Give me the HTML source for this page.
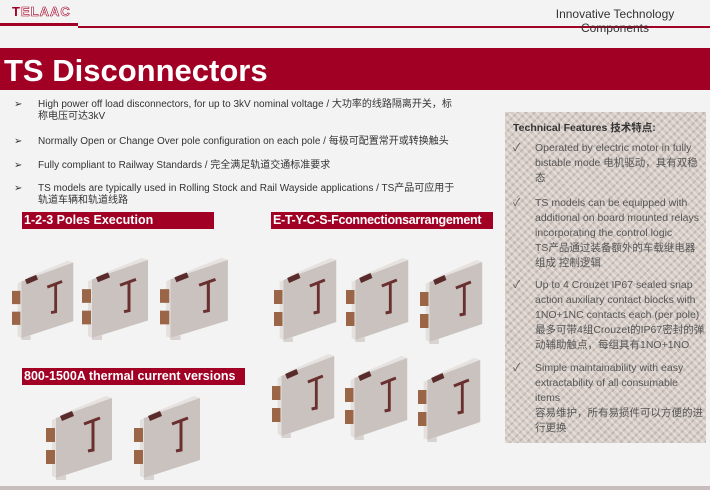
<!DOCTYPE html>
<html><head><meta charset="utf-8"><style>
*{margin:0;padding:0;box-sizing:border-box}
body{width:710px;height:490px;background:#f3f3f3;position:relative;overflow:hidden;font-family:"Liberation Sans","Noto Sans CJK SC",sans-serif}
.abs{position:absolute}
.bar{background:#a10024;color:#fff;font-weight:bold;font-size:12.5px;line-height:17px;padding-left:2px;white-space:nowrap}
.bl{position:absolute;left:16px;font-size:10px;color:#333;line-height:12px}
.bl span{position:absolute;left:-2px}
.bl div{margin-left:22px}
.panel{left:505px;top:112px;width:201px;height:331px;background:#d6cdc7;
background-image:repeating-linear-gradient(45deg,rgba(255,255,255,.35) 0 2px,transparent 2px 5px),repeating-linear-gradient(-45deg,rgba(160,140,135,.35) 0 2px,transparent 2px 6px);}
.ft{position:absolute;left:8px;font-size:10.5px;color:#555;line-height:15px}
.ft b{position:absolute;left:0;font-weight:normal}
.ft div{margin-left:22px;width:170px}
</style></head><body>
<svg width="0" height="0" style="position:absolute"><defs>
<symbol id="d" viewBox="0 0 70 90" preserveAspectRatio="none">
<polygon points="16,24 60,6 66,8 22,26" fill="#e6e2e0"/>
<polygon points="10,28 66,8 66,70 10,88" fill="#c9c2be"/>
<polygon points="6,30 10,28 10,88 6,86" fill="#e4e0de"/>
<rect x="0" y="38" width="9" height="14" fill="#9a6647"/>
<rect x="0" y="60" width="9" height="14" fill="#9a6647"/>
<polygon points="14,26 26,21 28,26 16,31" fill="#5a2b2b"/>
<path d="M38 34 L54 28 M47 31 L47 60 L42 61" stroke="#6a3030" stroke-width="3" fill="none"/>
<polygon points="10,88 20,85 20,90 10,90" fill="#d8d3d0"/>
</symbol></defs></svg>

<div class="abs" style="left:12px;top:4px;font-weight:bold;color:#a10024;font-size:13px;letter-spacing:1px">T<span style="color:#fff;-webkit-text-stroke:0.6px #a10024">ELAAC</span></div>
<div class="abs" style="left:0;top:23px;width:78px;height:3px;background:#a10024"></div>
<div class="abs" style="left:78px;top:26px;width:632px;height:2px;background:#a10024"></div>
<div class="abs" style="left:520px;top:7px;width:190px;text-align:center;font-size:12px;line-height:14px;color:#333">Innovative Technology<br>Components</div>

<div class="abs" style="left:0;top:48px;width:710px;height:42px;background:#a10024"></div>
<div class="abs" style="left:4px;top:52px;color:#fff;font-weight:bold;font-size:31px;line-height:37px">TS Disconnectors</div>

<div class="bl" style="top:99px"><span>➢</span><div>High power off load disconnectors, for up to 3kV nominal voltage / 大功率的线路隔离开关，标<br>称电压可达3kV</div></div>
<div class="bl" style="top:136px"><span>➢</span><div>Normally Open or Change Over pole configuration on each pole / 每极可配置常开或转换触头</div></div>
<div class="bl" style="top:160px"><span>➢</span><div>Fully compliant to Railway Standards / 完全满足轨道交通标准要求</div></div>
<div class="bl" style="top:183px"><span>➢</span><div>TS models are typically used in Rolling Stock and Rail Wayside applications / TS产品可应用于<br>轨道车辆和轨道线路</div></div>

<div class="abs bar" style="left:22px;top:212px;width:192px">1-2-3 Poles Execution</div>
<div class="abs bar" style="left:271px;top:212px;width:222px;letter-spacing:-0.3px">E-T-Y-C-S-Fconnectionsarrangement</div>
<div class="abs bar" style="left:22px;top:368px;width:223px">800-1500A thermal current versions</div>

<svg class="abs" style="left:12px;top:255px" width="65" height="85"><use href="#d"/></svg>
<svg class="abs" style="left:82px;top:252px" width="70" height="88"><use href="#d"/></svg>
<svg class="abs" style="left:160px;top:252px" width="72" height="88"><use href="#d"/></svg>

<svg class="abs" style="left:274px;top:252px" width="66" height="90"><use href="#d"/></svg>
<svg class="abs" style="left:346px;top:252px" width="66" height="90"><use href="#d"/></svg>
<svg class="abs" style="left:420px;top:254px" width="66" height="90"><use href="#d"/></svg>
<svg class="abs" style="left:272px;top:348px" width="66" height="90"><use href="#d"/></svg>
<svg class="abs" style="left:345px;top:350px" width="66" height="90"><use href="#d"/></svg>
<svg class="abs" style="left:418px;top:352px" width="66" height="90"><use href="#d"/></svg>

<svg class="abs" style="left:46px;top:390px" width="70" height="90"><use href="#d"/></svg>
<svg class="abs" style="left:134px;top:390px" width="70" height="90"><use href="#d"/></svg>

<div class="abs panel">
<div class="abs" style="left:8px;top:8px;font-size:10.5px;font-weight:bold;color:#333">Technical Features 技术特点:</div>
<div class="ft" style="top:29px"><b>✓</b><div>Operated by electric motor in fully bistable mode 电机驱动，具有双稳态</div></div>
<div class="ft" style="top:84px"><b>✓</b><div>TS models can be equipped with additional on board mounted relays incorporating the control logic &nbsp; &nbsp; &nbsp; &nbsp; TS产品通过装备额外的车载继电器组成 控制逻辑</div></div>
<div class="ft" style="top:166px"><b>✓</b><div>Up to 4 Crouzet IP67 sealed snap action auxiliary contact blocks with 1NO+1NC contacts each (per pole)最多可带4组Crouzet的IP67密封的弹动辅助触点，每组具有1NO+1NO</div></div>
<div class="ft" style="top:249px"><b>✓</b><div>Simple maintainability with easy extractability of all consumable items<br>容易维护，所有易损件可以方便的进行更换</div></div>
</div>

<div class="abs" style="left:0;top:486px;width:710px;height:4px;background:#c9bcbc"></div>
</body></html>
